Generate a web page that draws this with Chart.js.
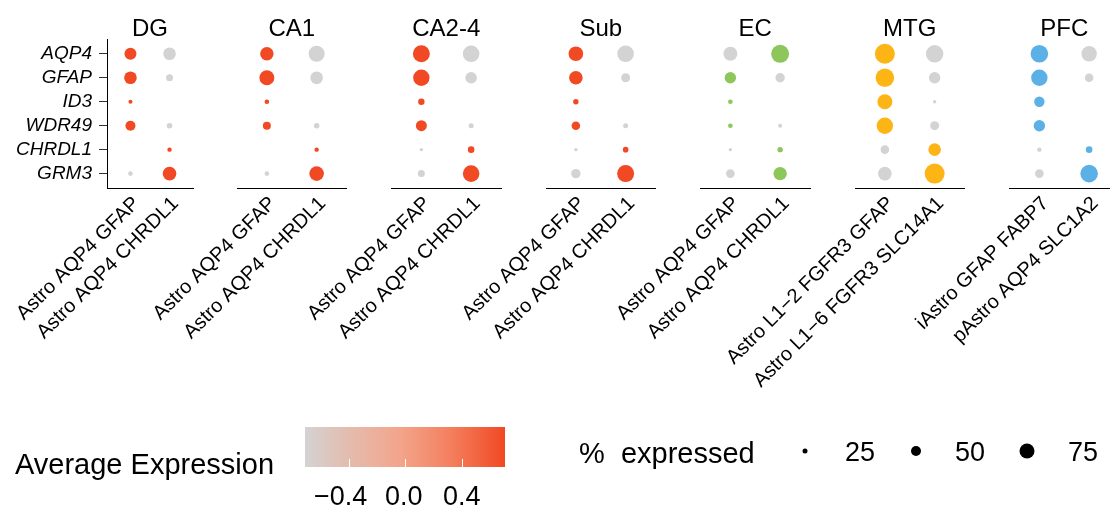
<!DOCTYPE html>
<html lang="en">
  <head>
    <meta charset="utf-8" />
    <title>Astrocyte marker dot plot</title>
    <style>
      html, body { margin: 0; padding: 0; background: #fff; overflow: hidden; }
      #wrap {
        position: relative; width: 1110px; height: 511px; overflow: hidden;
        font-family: "Liberation Sans", Arial, sans-serif; color: #000;
      }
      #wrap canvas { position: absolute; left: 0; top: 0; }
      .txt { position: absolute; line-height: 1; white-space: pre; }
      #bar {
        position: absolute; left: 305px; top: 427px; width: 200px; height: 40px;
        background: linear-gradient(to right, #d3d3d3 0%, #e4bcae 22%, #f3a48a 48%, #f47d5c 74%, #f04923 100%);
      }
      .tick { position: absolute; top: 459px; width: 1px; height: 8px; background: #fff; }
    </style>
  </head>
  <body>
    <div id="wrap">
      <canvas id="p0" width="1130" height="511"></canvas>
      <canvas id="p1" width="1130" height="511"></canvas>
      <canvas id="p2" width="1130" height="511"></canvas>
      <canvas id="p3" width="1130" height="511"></canvas>
      <canvas id="p4" width="1130" height="511"></canvas>
      <canvas id="p5" width="1130" height="511"></canvas>
      <canvas id="p6" width="1130" height="511"></canvas>
      <canvas id="sizeLegend" width="1130" height="511"></canvas>

      <div class="txt" style="left:15px; top:450px; font-size:29px;">Average Expression</div>
      <div id="bar"></div>
      <div class="tick" style="left:349px;"></div>
      <div class="tick" style="left:405px;"></div>
      <div class="tick" style="left:462px;"></div>
      <div class="txt" style="left:314px; top:483px; font-size:27px;">&minus;0.4</div>
      <div class="txt" style="left:385px; top:483px; font-size:27px;">0.0</div>
      <div class="txt" style="left:443px; top:483px; font-size:27px;">0.4</div>

      <div class="txt" style="left:579px; top:439px; font-size:29px;">%  expressed</div>
      <div class="txt" style="left:845px; top:439px; font-size:27px;">25</div>
      <div class="txt" style="left:955px; top:439px; font-size:27px;">50</div>
      <div class="txt" style="left:1068px; top:439px; font-size:27px;">75</div>
    </div>

    <script src="https://cdn.jsdelivr.net/npm/chart.js"></script>

    <script>
      const genes = ["AQP4", "GFAP", "ID3", "WDR49", "CHRDL1", "GRM3"];
      const regions = ["DG", "CA1", "CA2-4", "Sub", "EC", "MTG", "PFC"];

      const hippoTypes = ["Astro AQP4 GFAP", "Astro AQP4 CHRDL1"];
      const mtgTypes = ["Astro L1\u22122 FGFR3 GFAP", "Astro L1\u22126 FGFR3 SLC14A1"];
      const pfcTypes = ["iAstro GFAP FABP7", "pAstro AQP4 SLC1A2"];

      // % expressed, one row per gene: [first type, second type]
      const pctDG = [[60, 63], [63, 35], [20, 0], [50, 28], [0, 22], [23, 68]];
      const pctCA1 = [[67, 80], [75, 63], [23, 0], [40, 28], [0, 22], [23, 73]];
      const pctCA24 = [[85, 83], [82, 58], [32, 0], [55, 25], [17, 33], [35, 83]];
      const pctSub = [[73, 83], [68, 45], [27, 0], [43, 25], [17, 28], [47, 85]];
      const pctEC = [[70, 90], [57, 47], [23, 0], [23, 20], [17, 27], [43, 67]];
      const pctMTG = [[100, 87], [93, 57], [75, 17], [82, 45], [43, 63], [68, 100]];
      const pctPFC = [[88, 77], [82, 43], [52, 0], [57, 0], [22, 33], [43, 88]];

      // scaled average expression, same layout
      const exprDG = [[0.71, -0.71], [0.71, -0.71], [0.71, -0.71], [0.71, -0.71], [-0.71, 0.71], [-0.71, 0.71]];
      const exprCA1 = [[0.71, -0.71], [0.71, -0.71], [0.71, -0.71], [0.71, -0.71], [-0.71, 0.71], [-0.71, 0.71]];
      const exprCA24 = [[0.71, -0.71], [0.71, -0.71], [0.71, -0.71], [0.71, -0.71], [-0.71, 0.71], [-0.71, 0.71]];
      const exprSub = [[0.71, -0.71], [0.71, -0.71], [0.71, -0.71], [0.71, -0.71], [-0.71, 0.71], [-0.71, 0.71]];
      const exprEC = [[-0.71, 0.71], [0.71, -0.71], [0.71, -0.71], [0.71, -0.71], [-0.71, 0.71], [-0.71, 0.71]];
      const exprMTG = [[0.71, -0.71], [0.71, -0.71], [0.71, -0.71], [0.71, -0.71], [-0.71, 0.71], [-0.71, 0.71]];
      const exprPFC = [[0.71, -0.71], [0.71, -0.71], [0.71, -0.71], [0.71, -0.71], [-0.71, 0.71], [-0.71, 0.71]];

      const legendPct = [25, 50, 75];

      const cellTypes = [hippoTypes, hippoTypes, hippoTypes, hippoTypes, hippoTypes, mtgTypes, pfcTypes];
      const pctAll = [pctDG, pctCA1, pctCA24, pctSub, pctEC, pctMTG, pctPFC];
      const exprAll = [exprDG, exprCA1, exprCA24, exprSub, exprEC, exprMTG, exprPFC];

      const lowColor = [211, 211, 211];
      const highColors = [
        [240, 73, 35], [240, 73, 35], [240, 73, 35], [240, 73, 35],
        [141, 198, 90], [253, 181, 21], [91, 176, 230],
      ];

      // layout of the facets (pixels)
      const W = 1130;
      const panelLeft = [107, 237, 391.5, 546, 700.5, 855, 1009.5];
      const panelWidth = [86, 109.5, 109.5, 109.5, 109.5, 109.5, 109.5];
      const plotTop = 39.4;
      const plotBottom = 188;

      Chart.defaults.font.family = "'Liberation Sans', Arial, sans-serif";
      Chart.defaults.color = "#000";

      function mix(v, hi) {
        const t = Math.max(0, Math.min(1, (v + 0.71) / 1.42));
        const c = lowColor.map((l, k) => Math.round(l + (hi[k] - l) * t));
        return `rgb(${c[0]},${c[1]},${c[2]})`;
      }

      function makePanel(i) {
        const points = [];
        genes.forEach((g, gi) => {
          for (let c = 0; c < 2; c++) {
            points.push({ x: c + 1, y: gi + 1, r: pctAll[i][gi][c] / 10, v: exprAll[i][gi][c] });
          }
        });
        const first = i === 0;
        const titleSize = 24;
        new Chart(document.getElementById("p" + i), {
          type: "bubble",
          data: {
            datasets: [{
              data: points,
              borderWidth: 0,
              backgroundColor: (ctx) => mix(ctx.raw ? ctx.raw.v : 0, highColors[i]),
              clip: false,
            }],
          },
          options: {
            responsive: false,
            animation: false,
            events: [],
            layout: {
              autoPadding: false,
              padding: {
                left: first ? 0 : panelLeft[i],
                right: W - panelLeft[i] - panelWidth[i],
                top: plotTop - titleSize * 1.2,
                bottom: 0,
              },
            },
            plugins: {
              legend: { display: false },
              tooltip: { enabled: false },
              title: {
                display: true,
                fullSize: false,
                text: regions[i],
                font: { size: titleSize, weight: "normal", lineHeight: 1.2 },
                color: "#000",
                padding: { top: 4, bottom: -4 },
              },
            },
            scales: {
              x: {
                type: "linear",
                min: 0.4,
                max: 2.6,
                afterBuildTicks: (s) => { s.ticks = [{ value: 1 }, { value: 2 }]; },
                afterFit: (s) => { s.height = 511 - plotBottom; s.paddingLeft = 0; s.paddingRight = 0; },
                ticks: {
                  autoSkip: false,
                  minRotation: 45,
                  maxRotation: 45,
                  padding: 4,
                  labelOffset: 6,
                  font: { size: 20 },
                  color: "#000",
                  callback: (v) => cellTypes[i][Math.round(v) - 1],
                },
                grid: { display: true, drawOnChartArea: false, drawTicks: false },
                border: { display: true, color: "#000", width: 1 },
              },
              y: {
                type: "linear",
                display: first,
                reverse: true,
                min: 0.4,
                max: 6.6,
                afterBuildTicks: (s) => { s.ticks = genes.map((g, k) => ({ value: k + 1 })); },
                afterFit: (s) => {
                  s.width = first ? panelLeft[0] : 0;
                  s.paddingTop = 0;
                  s.paddingBottom = 0;
                },
                ticks: {
                  autoSkip: false,
                  padding: 7,
                  font: { size: 19, style: "italic" },
                  color: "#000",
                  callback: (v) => genes[Math.round(v) - 1],
                },
                grid: { display: true, drawOnChartArea: false, drawTicks: true, tickLength: 8, tickColor: "#333", tickWidth: 1 },
                border: { display: true, color: "#000", width: 1 },
              },
            },
          },
        });
      }

      regions.forEach((r, i) => makePanel(i));

      // size legend: % expressed dots
      new Chart(document.getElementById("sizeLegend"), {
        type: "bubble",
        data: {
          datasets: [{
            data: legendPct.map((p, k) => ({ x: k, y: 0, r: p / 10 })),
            backgroundColor: "#000",
            borderWidth: 0,
            clip: false,
          }],
        },
        options: {
          responsive: false,
          animation: false,
          events: [],
          layout: { autoPadding: false, padding: { left: 805, right: W - 1027, top: 441, bottom: 511 - 461 } },
          plugins: { legend: { display: false }, tooltip: { enabled: false }, title: { display: false } },
          scales: {
            x: { type: "linear", min: 0, max: 2, display: false },
            y: { type: "linear", min: -1, max: 1, display: false },
          },
        },
      });
    </script>
  </body>
</html>
